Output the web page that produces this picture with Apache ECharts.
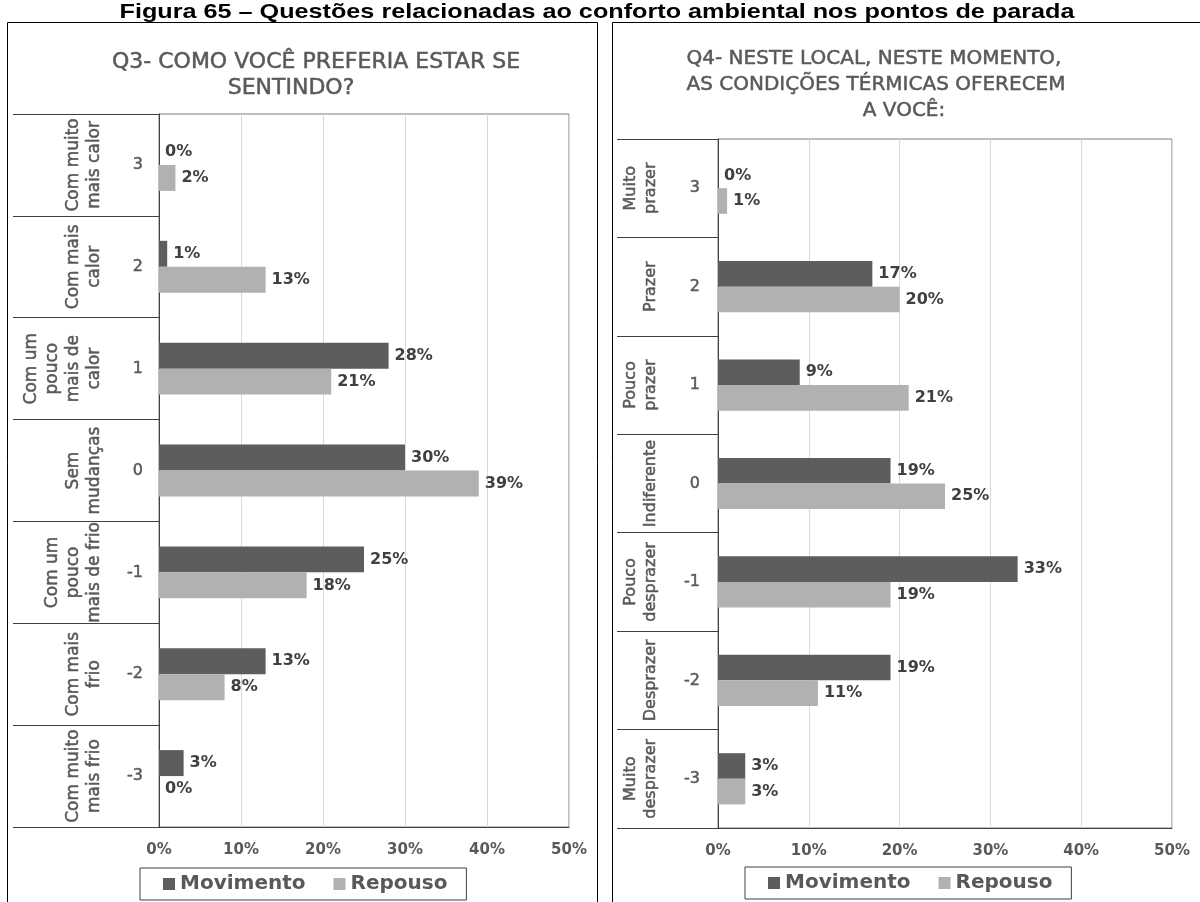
<!DOCTYPE html>
<html>
<head>
<meta charset="utf-8">
<script src="https://cdn.jsdelivr.net/npm/echarts@6/dist/echarts.min.js"></script>
<style>
  html, body { margin: 0; padding: 0; background: #ffffff; }
  #chart { width: 1200px; height: 902px; }
</style>
</head>
<body>
<div id="chart"></div>
<script>
// ---- data ----
const figureTitle = 'Figura 65 – Questões relacionadas ao conforto ambiental nos pontos de parada';
const seriesNames = ['Movimento', 'Repouso'];
const scaleCodes = ['3', '2', '1', '0', '-1', '-2', '-3'];
const xTicks = [0, 10, 20, 30, 40, 50];

const q3TitleLines = ['Q3- COMO VOCÊ PREFERIA ESTAR SE', 'SENTINDO?'];
const q3Labels = [
  'Com muito\nmais calor',
  'Com mais\ncalor',
  'Com um\npouco\nmais de\ncalor',
  'Sem\nmudanças',
  'Com um\npouco\nmais de frio',
  'Com mais\nfrio',
  'Com muito\nmais frio'
];
const q3Movimento = [0, 1, 28, 30, 25, 13, 3];
const q3Repouso = [2, 13, 21, 39, 18, 8, 0];

const q4TitleLines = ['Q4- NESTE LOCAL, NESTE MOMENTO,', 'AS CONDIÇÕES TÉRMICAS OFERECEM', 'A VOCÊ:'];
const q4Labels = [
  'Muito\nprazer',
  'Prazer',
  'Pouco\nprazer',
  'Indiferente',
  'Pouco\ndesprazer',
  'Desprazer',
  'Muito\ndesprazer'
];
const q4Movimento = [0, 17, 9, 19, 33, 19, 3];
const q4Repouso = [1, 20, 21, 25, 19, 11, 3];

// ---- styling ----
const FONT = 'DejaVu Sans';
const TEXT_GRAY = '#595959';
const LABEL_DARK = '#404040';
const COLORS = { Movimento: '#5d5d5d', Repouso: '#b1b1b1' };
// a thin outline of the same colour gives the gray texts a slightly heavier stroke
const heavy = { textBorderColor: TEXT_GRAY, textBorderWidth: 0.5 };

const chart = echarts.init(document.getElementById('chart'), null, { renderer: 'canvas' });

// one panel = grid + value axis + two category axes (codes and rotated descriptions)
function panel(idx, grid, tickLen, catFont, descMargin, codeMargin, descriptions) {
  return {
    grid: Object.assign({
      show: true, borderColor: '#7f7f7f', borderWidth: 1, backgroundColor: 'transparent'
    }, grid),
    xAxis: {
      gridIndex: idx, type: 'value', min: xTicks[0], max: xTicks[xTicks.length - 1], interval: 10,
      axisLine: { show: true, lineStyle: { color: '#404040', width: 1 } },
      axisTick: { show: false },
      splitLine: { show: true, lineStyle: { color: '#d9d9d9', width: 1 } },
      axisLabel: {
        formatter: '{value}%', margin: 16, color: TEXT_GRAY,
        fontFamily: FONT, fontSize: 15, fontWeight: 'bold'
      }
    },
    yAxes: [
      {
        gridIndex: idx, type: 'category', data: scaleCodes, inverse: true, position: 'left',
        axisLine: { show: true, lineStyle: { color: '#404040', width: 1 } },
        axisTick: { show: true, alignWithLabel: false, interval: 0, length: tickLen, lineStyle: { color: '#404040', width: 1 } },
        axisLabel: Object.assign({ interval: 0, margin: codeMargin, color: TEXT_GRAY, fontFamily: FONT, fontSize: 16 }, heavy)
      },
      {
        gridIndex: idx, type: 'category', data: descriptions, inverse: true, position: 'left',
        axisLine: { show: false }, axisTick: { show: false },
        axisLabel: Object.assign({
          interval: 0, rotate: 90, margin: descMargin, color: TEXT_GRAY, fontFamily: FONT,
          fontSize: catFont, lineHeight: catFont + 4, align: 'center'
        }, heavy)
      }
    ]
  };
}

const left = panel(0, { left: 159, top: 114, width: 410, height: 713 }, 146, 17, 54, 16, q3Labels);
const right = panel(1, { left: 718, top: 139, width: 454, height: 689 }, 101, 16, 57, 18, q4Labels);

function bars(name, values, xi, yi, gap) {
  return {
    name: name, type: 'bar', xAxisIndex: xi, yAxisIndex: yi, data: values,
    barGap: '0%', barCategoryGap: gap,
    itemStyle: { color: COLORS[name] },
    label: {
      show: true, position: 'right', distance: 6, formatter: '{c}%',
      color: LABEL_DARK, fontFamily: FONT, fontSize: 16, fontWeight: 'bold'
    },
    emphasis: { disabled: true }
  };
}

function legendAt(x, y) {
  return {
    left: x, top: y, data: seriesNames, icon: 'rect',
    itemWidth: 12, itemHeight: 12, itemGap: 28,
    padding: [6, 19, 6, 23], borderColor: '#404040', borderWidth: 1,
    textStyle: { color: TEXT_GRAY, fontFamily: FONT, fontSize: 20, fontWeight: 'bold' },
    selectedMode: false
  };
}

function titleLine(text, cx, top, size) {
  return {
    text: text, left: cx, top: top, textAlign: 'center', padding: 0,
    textStyle: Object.assign({ color: TEXT_GRAY, fontFamily: FONT, fontSize: size, fontWeight: 'normal' }, heavy)
  };
}

const titles = [];
const q3Centers = [316, 291];
const q4Centers = [874, 876, 904];
q3TitleLines.forEach((t, i) => titles.push(titleLine(t, q3Centers[i], 51 + i * 26, 22)));
q4TitleLines.forEach((t, i) => titles.push(titleLine(t, q4Centers[i], 49 + i * 26, 20)));

const option = {
  animation: false,
  backgroundColor: '#ffffff',
  title: titles,
  grid: [left.grid, right.grid],
  xAxis: [left.xAxis, right.xAxis],
  yAxis: [left.yAxes[0], left.yAxes[1], right.yAxes[0], right.yAxes[1]],
  legend: [legendAt(140, 868), legendAt(745, 867)],
  series: [
    bars('Movimento', q3Movimento, 0, 0, '49%'),
    bars('Repouso', q3Repouso, 0, 0, '49%'),
    bars('Movimento', q4Movimento, 1, 2, '48%'),
    bars('Repouso', q4Repouso, 1, 2, '48%')
  ],
  graphic: [
    // caption above both panels, set in a wide bold face
    { type: 'text', silent: true, x: 597, y: 12, scaleX: 1.2, scaleY: 1,
      style: { text: figureTitle, fill: '#000000', fontFamily: 'Liberation Sans', fontSize: 21, fontWeight: 'bold',
               align: 'center', verticalAlign: 'middle', textAlign: 'center', textVerticalAlign: 'middle' } },
    // frames around the two panels
    { type: 'rect', silent: true, shape: { x: 7.5, y: 22.5, width: 590, height: 900 },
      style: { fill: 'none', stroke: '#000000', lineWidth: 1 } },
    { type: 'rect', silent: true, shape: { x: 612.5, y: 22.5, width: 600, height: 900 },
      style: { fill: 'none', stroke: '#000000', lineWidth: 1 } }
  ]
};

chart.setOption(option);
</script>
</body>
</html>
